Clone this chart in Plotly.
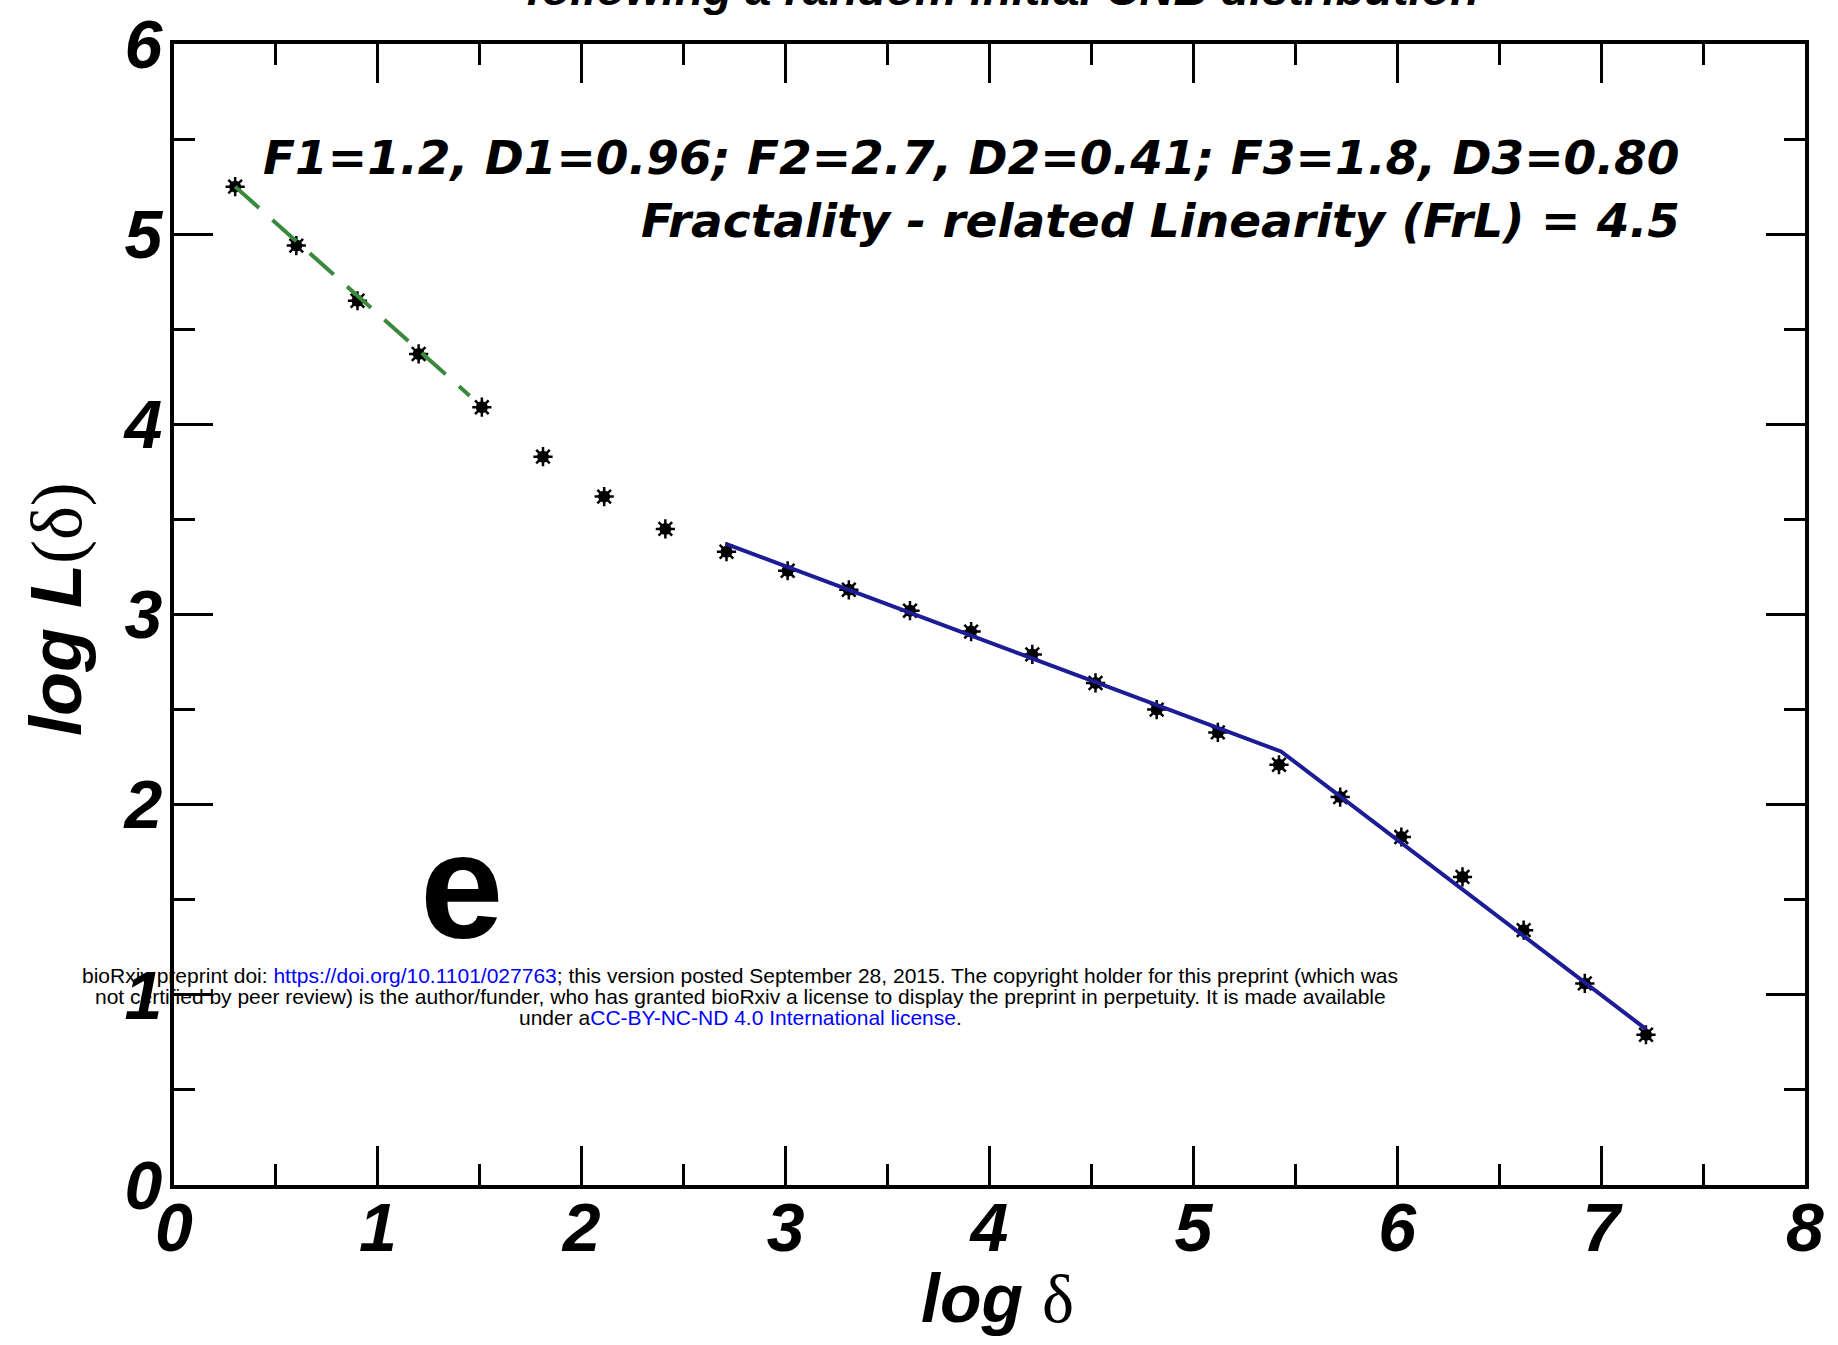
import plotly.graph_objects as go

# log(delta) vs log L(delta) measurements
log_delta = [0.30, 0.60, 0.90, 1.20, 1.51, 1.81, 2.11, 2.41, 2.71, 3.01, 3.31, 3.61,
             3.91, 4.21, 4.52, 4.82, 5.12, 5.42, 5.72, 6.02, 6.32, 6.62, 6.92, 7.22]
log_L = [5.25, 4.94, 4.65, 4.37, 4.09, 3.83, 3.62, 3.45, 3.33, 3.23, 3.13, 3.02,
         2.91, 2.79, 2.64, 2.50, 2.38, 2.21, 2.04, 1.83, 1.62, 1.34, 1.06, 0.79]

# fitted regimes
fit1_x = [0.30, 1.45]
fit1_y = [5.25, 4.15]
fit23_x = [2.71, 5.43, 7.22]
fit23_y = [3.37, 2.28, 0.82]

x_ticks = [0, 1, 2, 3, 4, 5, 6, 7, 8]
y_ticks = [0, 1, 2, 3, 4, 5, 6]

stats_line1 = "F1=1.2, D1=0.96; F2=2.7, D2=0.41; F3=1.8, D3=0.80"
stats_line2 = "Fractality - related Linearity (FrL) = 4.5"
panel_label = "e"
top_title = "following a random initial CNB distribution"
notice_lines = [
    "bioRxiv preprint doi: <span style='color:#0000ff'>https://doi.org/10.1101/027763</span>; "
    "this version posted September 28, 2015. The copyright holder for this preprint (which was",
    "not certified by peer review) is the author/funder, who has granted bioRxiv a license to "
    "display the preprint in perpetuity. It is made available",
    "under a<span style='color:#0000ff'>CC-BY-NC-ND 4.0 International license</span>.",
]

SANS = "Liberation Sans, Arial, sans-serif"
WIDE = "DejaVu Sans, sans-serif"

W, H = 1838, 1345
L_M, R_M, T_M, B_M = 174, 33, 44, 160
PW, PH = W - L_M - R_M, H - T_M - B_M


def px_x(x):
    return (x - L_M) / PW


def px_y(y):
    return (H - B_M - y) / PH


fig = go.Figure()

# data points: filled core plus spiky outline
fig.add_trace(go.Scatter(x=log_delta, y=log_L, mode="markers",
                         marker=dict(symbol="circle", size=12, color="black"),
                         showlegend=False, hoverinfo="skip"))
fig.add_trace(go.Scatter(x=log_delta, y=log_L, mode="markers",
                         marker=dict(symbol="asterisk-open", size=16, color="black",
                                     line=dict(color="black", width=2.5)),
                         showlegend=False))

# fit lines
fig.add_trace(go.Scatter(x=fit1_x, y=fit1_y, mode="lines",
                         line=dict(color="#3a8a3e", width=4, dash="32px,18px"),
                         showlegend=False))
fig.add_trace(go.Scatter(x=fit23_x, y=fit23_y, mode="lines",
                         line=dict(color="#1c1c96", width=4),
                         showlegend=False))

axis_common = dict(
    showline=True, linewidth=4, linecolor="black", mirror="allticks",
    ticks="inside", ticklen=39, tickwidth=3, tickcolor="black",
    showgrid=False, zeroline=False,
    tickfont=dict(family=SANS, size=68, color="black", weight="bold", style="italic"),
    minor=dict(ticks="inside", ticklen=21, tickwidth=3, tickcolor="black", dtick=0.5,
               showgrid=False),
)

fig.update_xaxes(range=[0, 8], tickvals=x_ticks, ticklabelstandoff=-20, **axis_common)
fig.update_yaxes(range=[0, 6], tickvals=y_ticks, ticklabelstandoff=-6, **axis_common)

annotations = [
    dict(text=stats_line1, x=px_x(1682), y=px_y(158), xanchor="right", yanchor="middle",
         font=dict(family=WIDE, size=47, color="black", weight="bold", style="italic")),
    dict(text=stats_line2, x=px_x(1682), y=px_y(221), xanchor="right", yanchor="middle",
         font=dict(family=WIDE, size=47, color="black", weight="bold", style="italic")),
    dict(text=panel_label, x=px_x(461), y=px_y(886), xanchor="center", yanchor="middle",
         font=dict(family=SANS, size=150, color="black", weight="bold")),
    dict(text=top_title, x=px_x(1002), y=px_y(-11), xanchor="center", yanchor="middle",
         font=dict(family=SANS, size=47, color="black", weight="bold", style="italic")),
    dict(text="<b><i>log</i></b> <span style='font-family:Liberation Serif'>δ</span>",
         x=px_x(998), y=px_y(1298), xanchor="center", yanchor="middle",
         font=dict(family=SANS, size=68, color="black")),
    dict(text="<b><i>log L</i></b><span style='font-family:Liberation Serif'>(δ)</span>",
         x=px_x(56), y=px_y(609), xanchor="center", yanchor="middle", textangle=-90,
         font=dict(family=SANS, size=72, color="black")),
]
for txt, yy in zip(notice_lines, [975, 996, 1017]):
    annotations.append(dict(text=txt, x=px_x(740), y=px_y(yy), xanchor="center",
                            yanchor="middle",
                            font=dict(family=SANS, size=21, color="black")))

for a in annotations:
    a.update(xref="paper", yref="paper", showarrow=False)

fig.update_layout(
    width=W, height=H,
    margin=dict(l=L_M, r=R_M, t=T_M, b=B_M, autoexpand=False),
    paper_bgcolor="white", plot_bgcolor="white",
    annotations=annotations,
    showlegend=False,
)

fig.write_html("out.html")
